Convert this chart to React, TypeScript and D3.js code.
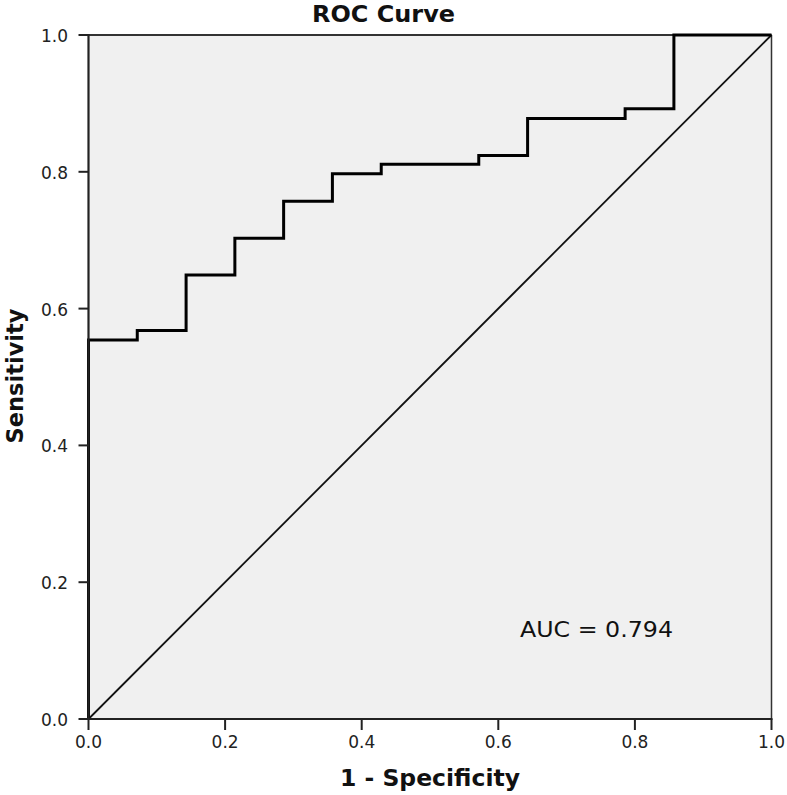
import React from "react";
import * as d3 from "d3";

const fprValues = [0, 0, 0.0714, 0.1429, 0.2143, 0.2857, 0.3571, 0.4286, 0.5714, 0.6429, 0.7857, 0.8571, 1.0];
const tprValues = [0, 0.554, 0.568, 0.649, 0.703, 0.757, 0.797, 0.811, 0.824, 0.878, 0.892, 1.0, 1.0];
const tickValues = [0, 0.2, 0.4, 0.6, 0.8, 1.0];
const titleText = "ROC Curve";
const xTitle = "1 - Specificity";
const yTitle = "Sensitivity";
const aucLabel = "AUC = 0.794";

const W = 787;
const H = 795;
const L = 88.5, R = 771.5, T = 35, B = 719;
const FONT = "'DejaVu Sans', sans-serif";

export default function App() {
  const x = d3.scaleLinear().domain([0, 1]).range([L, R]);
  const y = d3.scaleLinear().domain([0, 1]).range([B, T]);
  const pts = fprValues.map((f, i) => [f, tprValues[i]] as [number, number]);
  const line = d3
    .line<[number, number]>()
    .x((d) => x(d[0]))
    .y((d) => y(d[1]))
    .curve(d3.curveStepAfter);
  const diag = d3
    .line<[number, number]>()
    .x((d) => x(d[0]))
    .y((d) => y(d[1]));

  return (
    <svg
      width={W}
      height={H}
      style={{ position: "absolute", left: 0, top: 0, display: "block", background: "#fff" }}
    >
      <rect x={L} y={T} width={R - L} height={B - T} fill="#f0f0f0" />
      {/* frame top and right */}
      <line x1={L} x2={R} y1={T} y2={T} stroke="#333" strokeWidth={2} />
      <line x1={R} x2={R} y1={T} y2={B} stroke="#333" strokeWidth={1.5} />
      {/* diagonal */}
      <path d={diag([[0, 0], [1, 1]]) || ""} stroke="#111" strokeWidth={1.8} fill="none" />
      {/* ROC curve */}
      <path d={line(pts) || ""} stroke="#000" strokeWidth={3} fill="none" strokeLinejoin="miter" />
      {/* axes */}
      <line x1={L} x2={L} y1={T - 1} y2={B} stroke="#222" strokeWidth={2.2} />
      <line x1={L} x2={R + 1} y1={B} y2={B} stroke="#222" strokeWidth={2.2} />
      {tickValues.map((t) => (
        <g key={"y" + t}>
          <line x1={L - 10} x2={L} y1={y(t)} y2={y(t)} stroke="#222" strokeWidth={2} />
          <text
            x={68}
            y={y(t) + 7}
            textAnchor="end"
            fontFamily={FONT}
            fontSize={17}
            fill="#222"
          >
            {t.toFixed(1)}
          </text>
        </g>
      ))}
      {tickValues.map((t) => (
        <g key={"x" + t}>
          <line x1={x(t)} x2={x(t)} y1={B} y2={B + 11} stroke="#222" strokeWidth={2} />
          <text
            x={x(t)}
            y={748}
            textAnchor="middle"
            fontFamily={FONT}
            fontSize={17}
            fill="#222"
          >
            {t.toFixed(1)}
          </text>
        </g>
      ))}
      <text
        x={312}
        y={22}
        fontFamily={FONT}
        fontWeight="bold"
        fontSize={23}
        textLength={143}
        lengthAdjust="spacingAndGlyphs"
        fill="#111"
      >
        {titleText}
      </text>
      <text
        x={430}
        y={786}
        textAnchor="middle"
        fontFamily={FONT}
        fontWeight="bold"
        fontSize={23}
        textLength={180}
        lengthAdjust="spacingAndGlyphs"
        fill="#111"
      >
        {xTitle}
      </text>
      <text
        transform={`translate(23, ${(T + B) / 2 - 1}) rotate(-90)`}
        textAnchor="middle"
        fontFamily={FONT}
        fontWeight="bold"
        fontSize={23}
        textLength={135}
        lengthAdjust="spacingAndGlyphs"
        fill="#111"
      >
        {yTitle}
      </text>
      <text
        x={520}
        y={637}
        fontFamily={FONT}
        fontSize={22}
        textLength={153}
        lengthAdjust="spacingAndGlyphs"
        fill="#111"
      >
        {aucLabel}
      </text>
    </svg>
  );
}
